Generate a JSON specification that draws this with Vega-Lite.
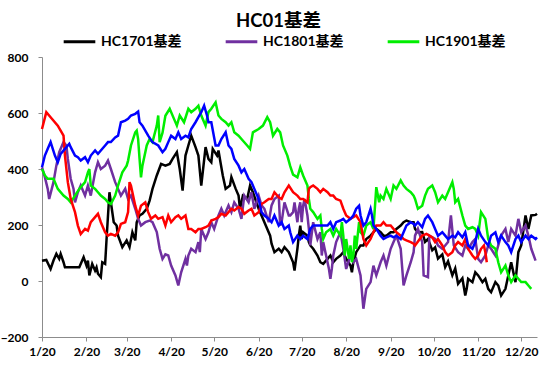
{
"$schema":"https://vega.github.io/schema/vega-lite/v6.json",
"width":495,"height":280,"autosize":"none",
"padding":{"left":42,"top":57,"right":13,"bottom":30},
"background":"white",
"config":{"view":{"stroke":null},"font":"Lato, Noto Sans CJK SC"},
"title":{"text":"HC01基差","fontSize":18.5,"fontWeight":"bold","font":"Lato, Noto Sans CJK SC","color":"#000","anchor":"middle","frame":"group","dx":-11,"offset":22,"dy":28},
"data":{"values":[
{"s":"1701","d":"2017/1/20","v":72},{"s":"1701","d":"2017/1/23","v":75},{"s":"1701","d":"2017/1/26","v":43},{"s":"1701","d":"2017/1/28","v":73},{"s":"1701","d":"2017/1/30","v":97},{"s":"1701","d":"2017/2/1","v":79},{"s":"1701","d":"2017/2/2","v":97},{"s":"1701","d":"2017/2/4","v":67},{"s":"1701","d":"2017/2/5","v":49},{"s":"1701","d":"2017/2/9","v":49},{"s":"1701","d":"2017/2/15","v":49},{"s":"1701","d":"2017/2/18","v":85},{"s":"1701","d":"2017/2/20","v":55},{"s":"1701","d":"2017/2/21","v":73},{"s":"1701","d":"2017/2/22","v":20},{"s":"1701","d":"2017/2/24","v":61},{"s":"1701","d":"2017/2/26","v":37},{"s":"1701","d":"2017/2/27","v":49},{"s":"1701","d":"2017/2/28","v":26},{"s":"1701","d":"2017/3/2","v":14},{"s":"1701","d":"2017/3/3","v":67},{"s":"1701","d":"2017/3/5","v":61},{"s":"1701","d":"2017/3/6","v":150},{"s":"1701","d":"2017/3/8","v":317},{"s":"1701","d":"2017/3/11","v":210},{"s":"1701","d":"2017/3/13","v":198},{"s":"1701","d":"2017/3/14","v":162},{"s":"1701","d":"2017/3/17","v":121},{"s":"1701","d":"2017/3/20","v":145},{"s":"1701","d":"2017/3/22","v":121},{"s":"1701","d":"2017/3/24","v":174},{"s":"1701","d":"2017/3/26","v":145},{"s":"1701","d":"2017/3/27","v":210},{"s":"1701","d":"2017/3/29","v":234},{"s":"1701","d":"2017/3/31","v":240},{"s":"1701","d":"2017/4/3","v":258},{"s":"1701","d":"2017/4/5","v":287},{"s":"1701","d":"2017/4/7","v":329},{"s":"1701","d":"2017/4/10","v":377},{"s":"1701","d":"2017/4/13","v":418},{"s":"1701","d":"2017/4/16","v":412},{"s":"1701","d":"2017/4/19","v":418},{"s":"1701","d":"2017/4/21","v":436},{"s":"1701","d":"2017/4/24","v":460},{"s":"1701","d":"2017/4/26","v":400},{"s":"1701","d":"2017/4/28","v":323},{"s":"1701","d":"2017/4/30","v":448},{"s":"1701","d":"2017/5/2","v":484},{"s":"1701","d":"2017/5/4","v":519},{"s":"1701","d":"2017/5/7","v":478},{"s":"1701","d":"2017/5/9","v":448},{"s":"1701","d":"2017/5/11","v":341},{"s":"1701","d":"2017/5/14","v":478},{"s":"1701","d":"2017/5/16","v":436},{"s":"1701","d":"2017/5/18","v":424},{"s":"1701","d":"2017/5/19","v":472},{"s":"1701","d":"2017/5/22","v":448},{"s":"1701","d":"2017/5/23","v":466},{"s":"1701","d":"2017/5/24","v":436},{"s":"1701","d":"2017/5/26","v":377},{"s":"1701","d":"2017/5/28","v":329},{"s":"1701","d":"2017/5/31","v":341},{"s":"1701","d":"2017/6/1","v":371},{"s":"1701","d":"2017/6/4","v":329},{"s":"1701","d":"2017/6/6","v":305},{"s":"1701","d":"2017/6/7","v":258},{"s":"1701","d":"2017/6/9","v":305},{"s":"1701","d":"2017/6/12","v":293},{"s":"1701","d":"2017/6/14","v":341},{"s":"1701","d":"2017/6/16","v":317},{"s":"1701","d":"2017/6/20","v":258},{"s":"1701","d":"2017/6/24","v":210},{"s":"1701","d":"2017/6/28","v":162},{"s":"1701","d":"2017/6/29","v":133},{"s":"1701","d":"2017/7/1","v":103},{"s":"1701","d":"2017/7/4","v":115},{"s":"1701","d":"2017/7/6","v":103},{"s":"1701","d":"2017/7/8","v":121},{"s":"1701","d":"2017/7/11","v":103},{"s":"1701","d":"2017/7/14","v":67},{"s":"1701","d":"2017/7/15","v":37},{"s":"1701","d":"2017/7/17","v":115},{"s":"1701","d":"2017/7/18","v":162},{"s":"1701","d":"2017/7/19","v":198},{"s":"1701","d":"2017/7/20","v":150},{"s":"1701","d":"2017/7/21","v":174},{"s":"1701","d":"2017/7/24","v":162},{"s":"1701","d":"2017/7/25","v":139},{"s":"1701","d":"2017/7/26","v":127},{"s":"1701","d":"2017/7/28","v":115},{"s":"1701","d":"2017/7/31","v":91},{"s":"1701","d":"2017/8/2","v":67},{"s":"1701","d":"2017/8/4","v":61},{"s":"1701","d":"2017/8/7","v":79},{"s":"1701","d":"2017/8/9","v":91},{"s":"1701","d":"2017/8/11","v":67},{"s":"1701","d":"2017/8/13","v":79},{"s":"1701","d":"2017/8/16","v":91},{"s":"1701","d":"2017/8/18","v":103},{"s":"1701","d":"2017/8/20","v":79},{"s":"1701","d":"2017/8/23","v":55},{"s":"1701","d":"2017/8/24","v":31},{"s":"1701","d":"2017/8/25","v":67},{"s":"1701","d":"2017/8/27","v":103},{"s":"1701","d":"2017/8/30","v":127},{"s":"1701","d":"2017/9/1","v":127},{"s":"1701","d":"2017/9/3","v":150},{"s":"1701","d":"2017/9/6","v":162},{"s":"1701","d":"2017/9/8","v":174},{"s":"1701","d":"2017/9/10","v":186},{"s":"1701","d":"2017/9/13","v":174},{"s":"1701","d":"2017/9/15","v":162},{"s":"1701","d":"2017/9/17","v":162},{"s":"1701","d":"2017/9/20","v":174},{"s":"1701","d":"2017/9/22","v":174},{"s":"1701","d":"2017/9/24","v":186},{"s":"1701","d":"2017/9/27","v":198},{"s":"1701","d":"2017/9/29","v":210},{"s":"1701","d":"2017/10/1","v":216},{"s":"1701","d":"2017/10/4","v":210},{"s":"1701","d":"2017/10/6","v":210},{"s":"1701","d":"2017/10/7","v":186},{"s":"1701","d":"2017/10/9","v":174},{"s":"1701","d":"2017/10/12","v":175},{"s":"1701","d":"2017/10/14","v":140},{"s":"1701","d":"2017/10/16","v":150},{"s":"1701","d":"2017/10/19","v":110},{"s":"1701","d":"2017/10/21","v":120},{"s":"1701","d":"2017/10/23","v":80},{"s":"1701","d":"2017/10/26","v":95},{"s":"1701","d":"2017/10/28","v":50},{"s":"1701","d":"2017/10/30","v":70},{"s":"1701","d":"2017/11/2","v":20},{"s":"1701","d":"2017/11/4","v":45},{"s":"1701","d":"2017/11/6","v":-10},{"s":"1701","d":"2017/11/9","v":10},{"s":"1701","d":"2017/11/11","v":-52},{"s":"1701","d":"2017/11/12","v":-28},{"s":"1701","d":"2017/11/13","v":8},{"s":"1701","d":"2017/11/16","v":-4},{"s":"1701","d":"2017/11/18","v":31},{"s":"1701","d":"2017/11/20","v":20},{"s":"1701","d":"2017/11/23","v":-4},{"s":"1701","d":"2017/11/25","v":8},{"s":"1701","d":"2017/11/27","v":-28},{"s":"1701","d":"2017/11/29","v":-40},{"s":"1701","d":"2017/12/2","v":-4},{"s":"1701","d":"2017/12/4","v":-16},{"s":"1701","d":"2017/12/6","v":-52},{"s":"1701","d":"2017/12/9","v":-28},{"s":"1701","d":"2017/12/11","v":20},{"s":"1701","d":"2017/12/13","v":67},{"s":"1701","d":"2017/12/16","v":-4},{"s":"1701","d":"2017/12/18","v":103},{"s":"1701","d":"2017/12/20","v":127},{"s":"1701","d":"2017/12/23","v":234},{"s":"1701","d":"2017/12/25","v":186},{"s":"1701","d":"2017/12/27","v":234},{"s":"1701","d":"2017/12/30","v":236},{"s":"1701","d":"2017/12/31","v":240},
{"s":"1801","d":"2017/1/20","v":406},{"s":"1801","d":"2017/1/22","v":371},{"s":"1801","d":"2017/1/24","v":329},{"s":"1801","d":"2017/1/25","v":293},{"s":"1801","d":"2017/1/28","v":353},{"s":"1801","d":"2017/1/30","v":412},{"s":"1801","d":"2017/2/1","v":460},{"s":"1801","d":"2017/2/4","v":496},{"s":"1801","d":"2017/2/6","v":484},{"s":"1801","d":"2017/2/7","v":436},{"s":"1801","d":"2017/2/9","v":365},{"s":"1801","d":"2017/2/11","v":329},{"s":"1801","d":"2017/2/12","v":281},{"s":"1801","d":"2017/2/14","v":317},{"s":"1801","d":"2017/2/16","v":341},{"s":"1801","d":"2017/2/19","v":305},{"s":"1801","d":"2017/2/21","v":341},{"s":"1801","d":"2017/2/23","v":305},{"s":"1801","d":"2017/2/26","v":388},{"s":"1801","d":"2017/2/28","v":424},{"s":"1801","d":"2017/3/2","v":400},{"s":"1801","d":"2017/3/5","v":412},{"s":"1801","d":"2017/3/7","v":430},{"s":"1801","d":"2017/3/9","v":400},{"s":"1801","d":"2017/3/12","v":353},{"s":"1801","d":"2017/3/14","v":329},{"s":"1801","d":"2017/3/16","v":305},{"s":"1801","d":"2017/3/19","v":329},{"s":"1801","d":"2017/3/21","v":293},{"s":"1801","d":"2017/3/23","v":305},{"s":"1801","d":"2017/3/26","v":258},{"s":"1801","d":"2017/3/28","v":222},{"s":"1801","d":"2017/3/30","v":198},{"s":"1801","d":"2017/4/2","v":210},{"s":"1801","d":"2017/4/5","v":216},{"s":"1801","d":"2017/4/7","v":210},{"s":"1801","d":"2017/4/10","v":175},{"s":"1801","d":"2017/4/12","v":115},{"s":"1801","d":"2017/4/14","v":79},{"s":"1801","d":"2017/4/16","v":95},{"s":"1801","d":"2017/4/18","v":91},{"s":"1801","d":"2017/4/20","v":55},{"s":"1801","d":"2017/4/23","v":20},{"s":"1801","d":"2017/4/25","v":-16},{"s":"1801","d":"2017/4/26","v":8},{"s":"1801","d":"2017/4/27","v":31},{"s":"1801","d":"2017/4/30","v":79},{"s":"1801","d":"2017/5/1","v":55},{"s":"1801","d":"2017/5/2","v":91},{"s":"1801","d":"2017/5/4","v":115},{"s":"1801","d":"2017/5/7","v":103},{"s":"1801","d":"2017/5/9","v":139},{"s":"1801","d":"2017/5/10","v":103},{"s":"1801","d":"2017/5/11","v":186},{"s":"1801","d":"2017/5/14","v":150},{"s":"1801","d":"2017/5/16","v":174},{"s":"1801","d":"2017/5/18","v":210},{"s":"1801","d":"2017/5/20","v":186},{"s":"1801","d":"2017/5/23","v":234},{"s":"1801","d":"2017/5/25","v":258},{"s":"1801","d":"2017/5/27","v":234},{"s":"1801","d":"2017/5/30","v":270},{"s":"1801","d":"2017/6/1","v":246},{"s":"1801","d":"2017/6/3","v":281},{"s":"1801","d":"2017/6/6","v":258},{"s":"1801","d":"2017/6/8","v":222},{"s":"1801","d":"2017/6/10","v":305},{"s":"1801","d":"2017/6/13","v":281},{"s":"1801","d":"2017/6/15","v":317},{"s":"1801","d":"2017/6/17","v":258},{"s":"1801","d":"2017/6/20","v":305},{"s":"1801","d":"2017/6/22","v":270},{"s":"1801","d":"2017/6/24","v":258},{"s":"1801","d":"2017/6/27","v":210},{"s":"1801","d":"2017/6/29","v":270},{"s":"1801","d":"2017/7/1","v":293},{"s":"1801","d":"2017/7/4","v":305},{"s":"1801","d":"2017/7/5","v":198},{"s":"1801","d":"2017/7/6","v":210},{"s":"1801","d":"2017/7/8","v":281},{"s":"1801","d":"2017/7/11","v":234},{"s":"1801","d":"2017/7/12","v":234},{"s":"1801","d":"2017/7/14","v":246},{"s":"1801","d":"2017/7/15","v":281},{"s":"1801","d":"2017/7/17","v":210},{"s":"1801","d":"2017/7/18","v":258},{"s":"1801","d":"2017/7/19","v":281},{"s":"1801","d":"2017/7/20","v":210},{"s":"1801","d":"2017/7/21","v":269},{"s":"1801","d":"2017/7/22","v":293},{"s":"1801","d":"2017/7/24","v":234},{"s":"1801","d":"2017/7/25","v":186},{"s":"1801","d":"2017/7/26","v":127},{"s":"1801","d":"2017/7/28","v":210},{"s":"1801","d":"2017/7/31","v":150},{"s":"1801","d":"2017/8/2","v":174},{"s":"1801","d":"2017/8/3","v":91},{"s":"1801","d":"2017/8/4","v":139},{"s":"1801","d":"2017/8/7","v":67},{"s":"1801","d":"2017/8/8","v":43},{"s":"1801","d":"2017/8/9","v":8},{"s":"1801","d":"2017/8/10","v":43},{"s":"1801","d":"2017/8/11","v":91},{"s":"1801","d":"2017/8/13","v":139},{"s":"1801","d":"2017/8/16","v":174},{"s":"1801","d":"2017/8/18","v":115},{"s":"1801","d":"2017/8/20","v":43},{"s":"1801","d":"2017/8/23","v":91},{"s":"1801","d":"2017/8/25","v":67},{"s":"1801","d":"2017/8/27","v":79},{"s":"1801","d":"2017/8/30","v":20},{"s":"1801","d":"2017/9/1","v":-99},{"s":"1801","d":"2017/9/3","v":-28},{"s":"1801","d":"2017/9/6","v":-4},{"s":"1801","d":"2017/9/8","v":55},{"s":"1801","d":"2017/9/10","v":20},{"s":"1801","d":"2017/9/13","v":67},{"s":"1801","d":"2017/9/15","v":91},{"s":"1801","d":"2017/9/17","v":55},{"s":"1801","d":"2017/9/20","v":115},{"s":"1801","d":"2017/9/22","v":139},{"s":"1801","d":"2017/9/24","v":162},{"s":"1801","d":"2017/9/27","v":115},{"s":"1801","d":"2017/9/29","v":-16},{"s":"1801","d":"2017/10/1","v":20},{"s":"1801","d":"2017/10/4","v":67},{"s":"1801","d":"2017/10/6","v":103},{"s":"1801","d":"2017/10/7","v":162},{"s":"1801","d":"2017/10/9","v":186},{"s":"1801","d":"2017/10/12","v":139},{"s":"1801","d":"2017/10/13","v":20},{"s":"1801","d":"2017/10/16","v":14},{"s":"1801","d":"2017/10/17","v":162},{"s":"1801","d":"2017/10/21","v":150},{"s":"1801","d":"2017/10/23","v":127},{"s":"1801","d":"2017/10/26","v":115},{"s":"1801","d":"2017/10/28","v":127},{"s":"1801","d":"2017/10/30","v":139},{"s":"1801","d":"2017/11/1","v":234},{"s":"1801","d":"2017/11/3","v":127},{"s":"1801","d":"2017/11/6","v":103},{"s":"1801","d":"2017/11/9","v":91},{"s":"1801","d":"2017/11/11","v":127},{"s":"1801","d":"2017/11/13","v":115},{"s":"1801","d":"2017/11/16","v":139},{"s":"1801","d":"2017/11/18","v":150},{"s":"1801","d":"2017/11/20","v":79},{"s":"1801","d":"2017/11/22","v":67},{"s":"1801","d":"2017/11/25","v":91},{"s":"1801","d":"2017/11/27","v":127},{"s":"1801","d":"2017/11/29","v":115},{"s":"1801","d":"2017/12/2","v":91},{"s":"1801","d":"2017/12/4","v":127},{"s":"1801","d":"2017/12/6","v":162},{"s":"1801","d":"2017/12/9","v":186},{"s":"1801","d":"2017/12/11","v":139},{"s":"1801","d":"2017/12/13","v":186},{"s":"1801","d":"2017/12/16","v":162},{"s":"1801","d":"2017/12/18","v":222},{"s":"1801","d":"2017/12/20","v":174},{"s":"1801","d":"2017/12/23","v":198},{"s":"1801","d":"2017/12/25","v":162},{"s":"1801","d":"2017/12/27","v":115},{"s":"1801","d":"2017/12/30","v":73},
{"s":"1901","d":"2017/1/20","v":400},{"s":"1901","d":"2017/1/22","v":377},{"s":"1901","d":"2017/1/24","v":365},{"s":"1901","d":"2017/1/28","v":365},{"s":"1901","d":"2017/1/31","v":329},{"s":"1901","d":"2017/2/4","v":305},{"s":"1901","d":"2017/2/7","v":293},{"s":"1901","d":"2017/2/9","v":281},{"s":"1901","d":"2017/2/12","v":305},{"s":"1901","d":"2017/2/15","v":329},{"s":"1901","d":"2017/2/19","v":353},{"s":"1901","d":"2017/2/21","v":388},{"s":"1901","d":"2017/2/22","v":400},{"s":"1901","d":"2017/2/23","v":341},{"s":"1901","d":"2017/2/26","v":329},{"s":"1901","d":"2017/2/28","v":317},{"s":"1901","d":"2017/3/2","v":305},{"s":"1901","d":"2017/3/5","v":293},{"s":"1901","d":"2017/3/7","v":281},{"s":"1901","d":"2017/3/9","v":275},{"s":"1901","d":"2017/3/12","v":305},{"s":"1901","d":"2017/3/14","v":341},{"s":"1901","d":"2017/3/17","v":388},{"s":"1901","d":"2017/3/20","v":412},{"s":"1901","d":"2017/3/21","v":430},{"s":"1901","d":"2017/3/23","v":484},{"s":"1901","d":"2017/3/26","v":531},{"s":"1901","d":"2017/3/27","v":537},{"s":"1901","d":"2017/3/28","v":507},{"s":"1901","d":"2017/3/29","v":436},{"s":"1901","d":"2017/3/30","v":370},{"s":"1901","d":"2017/3/31","v":412},{"s":"1901","d":"2017/4/3","v":484},{"s":"1901","d":"2017/4/5","v":507},{"s":"1901","d":"2017/4/7","v":496},{"s":"1901","d":"2017/4/10","v":555},{"s":"1901","d":"2017/4/11","v":591},{"s":"1901","d":"2017/4/12","v":496},{"s":"1901","d":"2017/4/14","v":530},{"s":"1901","d":"2017/4/16","v":590},{"s":"1901","d":"2017/4/19","v":615},{"s":"1901","d":"2017/4/22","v":579},{"s":"1901","d":"2017/4/24","v":555},{"s":"1901","d":"2017/4/26","v":591},{"s":"1901","d":"2017/4/29","v":567},{"s":"1901","d":"2017/5/2","v":615},{"s":"1901","d":"2017/5/4","v":603},{"s":"1901","d":"2017/5/7","v":615},{"s":"1901","d":"2017/5/9","v":626},{"s":"1901","d":"2017/5/11","v":591},{"s":"1901","d":"2017/5/14","v":555},{"s":"1901","d":"2017/5/16","v":603},{"s":"1901","d":"2017/5/18","v":615},{"s":"1901","d":"2017/5/21","v":638},{"s":"1901","d":"2017/5/23","v":591},{"s":"1901","d":"2017/5/25","v":579},{"s":"1901","d":"2017/5/28","v":567},{"s":"1901","d":"2017/5/30","v":555},{"s":"1901","d":"2017/6/1","v":567},{"s":"1901","d":"2017/6/3","v":531},{"s":"1901","d":"2017/6/6","v":519},{"s":"1901","d":"2017/6/8","v":507},{"s":"1901","d":"2017/6/12","v":484},{"s":"1901","d":"2017/6/14","v":472},{"s":"1901","d":"2017/6/16","v":531},{"s":"1901","d":"2017/6/20","v":543},{"s":"1901","d":"2017/6/23","v":555},{"s":"1901","d":"2017/6/26","v":585},{"s":"1901","d":"2017/6/28","v":567},{"s":"1901","d":"2017/6/30","v":519},{"s":"1901","d":"2017/7/3","v":543},{"s":"1901","d":"2017/7/5","v":531},{"s":"1901","d":"2017/7/7","v":484},{"s":"1901","d":"2017/7/10","v":448},{"s":"1901","d":"2017/7/12","v":410},{"s":"1901","d":"2017/7/14","v":380},{"s":"1901","d":"2017/7/17","v":370},{"s":"1901","d":"2017/7/19","v":406},{"s":"1901","d":"2017/7/21","v":377},{"s":"1901","d":"2017/7/24","v":341},{"s":"1901","d":"2017/7/25","v":293},{"s":"1901","d":"2017/7/26","v":258},{"s":"1901","d":"2017/7/28","v":246},{"s":"1901","d":"2017/7/31","v":222},{"s":"1901","d":"2017/8/2","v":234},{"s":"1901","d":"2017/8/3","v":186},{"s":"1901","d":"2017/8/4","v":150},{"s":"1901","d":"2017/8/6","v":174},{"s":"1901","d":"2017/8/9","v":186},{"s":"1901","d":"2017/8/11","v":162},{"s":"1901","d":"2017/8/13","v":186},{"s":"1901","d":"2017/8/16","v":162},{"s":"1901","d":"2017/8/17","v":210},{"s":"1901","d":"2017/8/18","v":162},{"s":"1901","d":"2017/8/19","v":91},{"s":"1901","d":"2017/8/20","v":150},{"s":"1901","d":"2017/8/22","v":79},{"s":"1901","d":"2017/8/23","v":127},{"s":"1901","d":"2017/8/24","v":67},{"s":"1901","d":"2017/8/25","v":91},{"s":"1901","d":"2017/8/26","v":162},{"s":"1901","d":"2017/8/27","v":115},{"s":"1901","d":"2017/8/29","v":210},{"s":"1901","d":"2017/8/30","v":174},{"s":"1901","d":"2017/9/1","v":162},{"s":"1901","d":"2017/9/3","v":198},{"s":"1901","d":"2017/9/6","v":210},{"s":"1901","d":"2017/9/8","v":186},{"s":"1901","d":"2017/9/10","v":335},{"s":"1901","d":"2017/9/12","v":281},{"s":"1901","d":"2017/9/13","v":305},{"s":"1901","d":"2017/9/15","v":293},{"s":"1901","d":"2017/9/17","v":329},{"s":"1901","d":"2017/9/20","v":293},{"s":"1901","d":"2017/9/22","v":341},{"s":"1901","d":"2017/9/24","v":329},{"s":"1901","d":"2017/9/27","v":359},{"s":"1901","d":"2017/9/29","v":341},{"s":"1901","d":"2017/10/1","v":329},{"s":"1901","d":"2017/10/4","v":317},{"s":"1901","d":"2017/10/6","v":305},{"s":"1901","d":"2017/10/7","v":293},{"s":"1901","d":"2017/10/9","v":258},{"s":"1901","d":"2017/10/12","v":269},{"s":"1901","d":"2017/10/14","v":305},{"s":"1901","d":"2017/10/16","v":329},{"s":"1901","d":"2017/10/19","v":341},{"s":"1901","d":"2017/10/21","v":317},{"s":"1901","d":"2017/10/23","v":281},{"s":"1901","d":"2017/10/26","v":305},{"s":"1901","d":"2017/10/28","v":293},{"s":"1901","d":"2017/10/30","v":317},{"s":"1901","d":"2017/11/2","v":353},{"s":"1901","d":"2017/11/3","v":329},{"s":"1901","d":"2017/11/4","v":281},{"s":"1901","d":"2017/11/6","v":293},{"s":"1901","d":"2017/11/9","v":234},{"s":"1901","d":"2017/11/11","v":198},{"s":"1901","d":"2017/11/13","v":186},{"s":"1901","d":"2017/11/16","v":192},{"s":"1901","d":"2017/11/18","v":186},{"s":"1901","d":"2017/11/20","v":162},{"s":"1901","d":"2017/11/22","v":246},{"s":"1901","d":"2017/11/25","v":222},{"s":"1901","d":"2017/11/27","v":150},{"s":"1901","d":"2017/11/29","v":127},{"s":"1901","d":"2017/12/2","v":115},{"s":"1901","d":"2017/12/4","v":67},{"s":"1901","d":"2017/12/6","v":31},{"s":"1901","d":"2017/12/9","v":55},{"s":"1901","d":"2017/12/11","v":20},{"s":"1901","d":"2017/12/13","v":-4},{"s":"1901","d":"2017/12/16","v":20},{"s":"1901","d":"2017/12/18","v":8},{"s":"1901","d":"2017/12/20","v":-4},{"s":"1901","d":"2017/12/23","v":-4},{"s":"1901","d":"2017/12/25","v":-16},{"s":"1901","d":"2017/12/27","v":-28},
{"s":"1601","d":"2017/1/20","v":543},{"s":"1601","d":"2017/1/23","v":603},{"s":"1601","d":"2017/1/26","v":585},{"s":"1601","d":"2017/1/31","v":555},{"s":"1601","d":"2017/2/2","v":537},{"s":"1601","d":"2017/2/4","v":519},{"s":"1601","d":"2017/2/5","v":448},{"s":"1601","d":"2017/2/7","v":353},{"s":"1601","d":"2017/2/9","v":293},{"s":"1601","d":"2017/2/12","v":246},{"s":"1601","d":"2017/2/14","v":198},{"s":"1601","d":"2017/2/16","v":168},{"s":"1601","d":"2017/2/19","v":186},{"s":"1601","d":"2017/2/21","v":180},{"s":"1601","d":"2017/2/23","v":210},{"s":"1601","d":"2017/2/26","v":228},{"s":"1601","d":"2017/2/28","v":240},{"s":"1601","d":"2017/3/2","v":210},{"s":"1601","d":"2017/3/5","v":174},{"s":"1601","d":"2017/3/7","v":162},{"s":"1601","d":"2017/3/9","v":168},{"s":"1601","d":"2017/3/12","v":162},{"s":"1601","d":"2017/3/14","v":174},{"s":"1601","d":"2017/3/16","v":204},{"s":"1601","d":"2017/3/19","v":210},{"s":"1601","d":"2017/3/21","v":246},{"s":"1601","d":"2017/3/22","v":353},{"s":"1601","d":"2017/3/23","v":341},{"s":"1601","d":"2017/3/26","v":269},{"s":"1601","d":"2017/3/28","v":234},{"s":"1601","d":"2017/3/30","v":269},{"s":"1601","d":"2017/4/2","v":281},{"s":"1601","d":"2017/4/4","v":246},{"s":"1601","d":"2017/4/6","v":222},{"s":"1601","d":"2017/4/9","v":234},{"s":"1601","d":"2017/4/11","v":222},{"s":"1601","d":"2017/4/14","v":228},{"s":"1601","d":"2017/4/16","v":198},{"s":"1601","d":"2017/4/18","v":234},{"s":"1601","d":"2017/4/20","v":210},{"s":"1601","d":"2017/4/23","v":228},{"s":"1601","d":"2017/4/25","v":234},{"s":"1601","d":"2017/4/27","v":222},{"s":"1601","d":"2017/4/30","v":234},{"s":"1601","d":"2017/5/2","v":186},{"s":"1601","d":"2017/5/4","v":186},{"s":"1601","d":"2017/5/7","v":174},{"s":"1601","d":"2017/5/9","v":186},{"s":"1601","d":"2017/5/11","v":186},{"s":"1601","d":"2017/5/14","v":192},{"s":"1601","d":"2017/5/16","v":198},{"s":"1601","d":"2017/5/18","v":216},{"s":"1601","d":"2017/5/21","v":222},{"s":"1601","d":"2017/5/23","v":228},{"s":"1601","d":"2017/5/25","v":240},{"s":"1601","d":"2017/5/28","v":234},{"s":"1601","d":"2017/5/30","v":246},{"s":"1601","d":"2017/6/1","v":258},{"s":"1601","d":"2017/6/3","v":252},{"s":"1601","d":"2017/6/6","v":264},{"s":"1601","d":"2017/6/8","v":258},{"s":"1601","d":"2017/6/10","v":240},{"s":"1601","d":"2017/6/13","v":252},{"s":"1601","d":"2017/6/15","v":258},{"s":"1601","d":"2017/6/17","v":234},{"s":"1601","d":"2017/6/20","v":246},{"s":"1601","d":"2017/6/22","v":275},{"s":"1601","d":"2017/6/24","v":281},{"s":"1601","d":"2017/6/27","v":293},{"s":"1601","d":"2017/6/29","v":293},{"s":"1601","d":"2017/7/1","v":317},{"s":"1601","d":"2017/7/4","v":299},{"s":"1601","d":"2017/7/6","v":293},{"s":"1601","d":"2017/7/8","v":317},{"s":"1601","d":"2017/7/11","v":341},{"s":"1601","d":"2017/7/14","v":317},{"s":"1601","d":"2017/7/17","v":305},{"s":"1601","d":"2017/7/19","v":293},{"s":"1601","d":"2017/7/21","v":293},{"s":"1601","d":"2017/7/24","v":281},{"s":"1601","d":"2017/7/25","v":329},{"s":"1601","d":"2017/7/26","v":335},{"s":"1601","d":"2017/7/28","v":341},{"s":"1601","d":"2017/7/31","v":329},{"s":"1601","d":"2017/8/2","v":317},{"s":"1601","d":"2017/8/4","v":329},{"s":"1601","d":"2017/8/7","v":317},{"s":"1601","d":"2017/8/9","v":305},{"s":"1601","d":"2017/8/11","v":305},{"s":"1601","d":"2017/8/13","v":293},{"s":"1601","d":"2017/8/16","v":287},{"s":"1601","d":"2017/8/18","v":258},{"s":"1601","d":"2017/8/20","v":234},{"s":"1601","d":"2017/8/23","v":222},{"s":"1601","d":"2017/8/25","v":228},{"s":"1601","d":"2017/8/27","v":234},{"s":"1601","d":"2017/8/30","v":210},{"s":"1601","d":"2017/9/1","v":150},{"s":"1601","d":"2017/9/3","v":127},{"s":"1601","d":"2017/9/6","v":150},{"s":"1601","d":"2017/9/8","v":174},{"s":"1601","d":"2017/9/10","v":198},{"s":"1601","d":"2017/9/13","v":198},{"s":"1601","d":"2017/9/15","v":210},{"s":"1601","d":"2017/9/17","v":198},{"s":"1601","d":"2017/9/20","v":198},{"s":"1601","d":"2017/9/22","v":186},{"s":"1601","d":"2017/9/24","v":174},{"s":"1601","d":"2017/9/27","v":162},{"s":"1601","d":"2017/9/29","v":150},{"s":"1601","d":"2017/10/1","v":145},{"s":"1601","d":"2017/10/4","v":139},{"s":"1601","d":"2017/10/6","v":133},{"s":"1601","d":"2017/10/7","v":127},{"s":"1601","d":"2017/10/12","v":162},{"s":"1601","d":"2017/10/15","v":168},{"s":"1601","d":"2017/10/19","v":156},{"s":"1601","d":"2017/10/21","v":139},{"s":"1601","d":"2017/10/23","v":150},{"s":"1601","d":"2017/10/26","v":127},{"s":"1601","d":"2017/10/28","v":103},{"s":"1601","d":"2017/10/30","v":91},{"s":"1601","d":"2017/11/2","v":103},{"s":"1601","d":"2017/11/4","v":127},{"s":"1601","d":"2017/11/6","v":139},{"s":"1601","d":"2017/11/9","v":127},{"s":"1601","d":"2017/11/11","v":150},{"s":"1601","d":"2017/11/13","v":115},{"s":"1601","d":"2017/11/16","v":91},{"s":"1601","d":"2017/11/18","v":79},{"s":"1601","d":"2017/11/20","v":91},{"s":"1601","d":"2017/11/22","v":115},{"s":"1601","d":"2017/11/24","v":127},{"s":"1601","d":"2017/11/25","v":103},{"s":"1601","d":"2017/11/26","v":67},
{"s":"1501","d":"2017/1/20","v":406},{"s":"1501","d":"2017/1/22","v":448},{"s":"1501","d":"2017/1/24","v":472},{"s":"1501","d":"2017/1/26","v":496},{"s":"1501","d":"2017/1/29","v":448},{"s":"1501","d":"2017/1/31","v":424},{"s":"1501","d":"2017/2/2","v":454},{"s":"1501","d":"2017/2/5","v":472},{"s":"1501","d":"2017/2/8","v":490},{"s":"1501","d":"2017/2/9","v":478},{"s":"1501","d":"2017/2/12","v":448},{"s":"1501","d":"2017/2/14","v":442},{"s":"1501","d":"2017/2/16","v":430},{"s":"1501","d":"2017/2/19","v":442},{"s":"1501","d":"2017/2/21","v":424},{"s":"1501","d":"2017/2/23","v":448},{"s":"1501","d":"2017/2/26","v":466},{"s":"1501","d":"2017/2/28","v":454},{"s":"1501","d":"2017/3/2","v":466},{"s":"1501","d":"2017/3/5","v":484},{"s":"1501","d":"2017/3/7","v":496},{"s":"1501","d":"2017/3/9","v":496},{"s":"1501","d":"2017/3/12","v":513},{"s":"1501","d":"2017/3/14","v":519},{"s":"1501","d":"2017/3/16","v":567},{"s":"1501","d":"2017/3/19","v":573},{"s":"1501","d":"2017/3/21","v":579},{"s":"1501","d":"2017/3/23","v":591},{"s":"1501","d":"2017/3/26","v":597},{"s":"1501","d":"2017/3/28","v":605},{"s":"1501","d":"2017/3/29","v":567},{"s":"1501","d":"2017/3/31","v":555},{"s":"1501","d":"2017/4/4","v":519},{"s":"1501","d":"2017/4/7","v":496},{"s":"1501","d":"2017/4/11","v":484},{"s":"1501","d":"2017/4/14","v":460},{"s":"1501","d":"2017/4/16","v":472},{"s":"1501","d":"2017/4/18","v":496},{"s":"1501","d":"2017/4/20","v":519},{"s":"1501","d":"2017/4/23","v":507},{"s":"1501","d":"2017/4/25","v":531},{"s":"1501","d":"2017/4/27","v":507},{"s":"1501","d":"2017/4/30","v":519},{"s":"1501","d":"2017/5/2","v":513},{"s":"1501","d":"2017/5/4","v":543},{"s":"1501","d":"2017/5/7","v":567},{"s":"1501","d":"2017/5/9","v":585},{"s":"1501","d":"2017/5/11","v":603},{"s":"1501","d":"2017/5/13","v":626},{"s":"1501","d":"2017/5/15","v":591},{"s":"1501","d":"2017/5/16","v":567},{"s":"1501","d":"2017/5/18","v":567},{"s":"1501","d":"2017/5/21","v":484},{"s":"1501","d":"2017/5/23","v":484},{"s":"1501","d":"2017/5/25","v":507},{"s":"1501","d":"2017/5/28","v":531},{"s":"1501","d":"2017/5/30","v":484},{"s":"1501","d":"2017/6/1","v":472},{"s":"1501","d":"2017/6/3","v":436},{"s":"1501","d":"2017/6/6","v":412},{"s":"1501","d":"2017/6/8","v":388},{"s":"1501","d":"2017/6/10","v":400},{"s":"1501","d":"2017/6/13","v":365},{"s":"1501","d":"2017/6/15","v":353},{"s":"1501","d":"2017/6/17","v":329},{"s":"1501","d":"2017/6/20","v":293},{"s":"1501","d":"2017/6/22","v":246},{"s":"1501","d":"2017/6/24","v":234},{"s":"1501","d":"2017/6/27","v":222},{"s":"1501","d":"2017/6/29","v":210},{"s":"1501","d":"2017/7/1","v":234},{"s":"1501","d":"2017/7/4","v":198},{"s":"1501","d":"2017/7/6","v":210},{"s":"1501","d":"2017/7/8","v":186},{"s":"1501","d":"2017/7/11","v":198},{"s":"1501","d":"2017/7/12","v":174},{"s":"1501","d":"2017/7/14","v":139},{"s":"1501","d":"2017/7/17","v":162},{"s":"1501","d":"2017/7/19","v":150},{"s":"1501","d":"2017/7/21","v":162},{"s":"1501","d":"2017/7/24","v":150},{"s":"1501","d":"2017/7/26","v":186},{"s":"1501","d":"2017/7/28","v":198},{"s":"1501","d":"2017/7/31","v":198},{"s":"1501","d":"2017/8/2","v":198},{"s":"1501","d":"2017/8/4","v":198},{"s":"1501","d":"2017/8/7","v":198},{"s":"1501","d":"2017/8/9","v":210},{"s":"1501","d":"2017/8/11","v":186},{"s":"1501","d":"2017/8/13","v":210},{"s":"1501","d":"2017/8/16","v":216},{"s":"1501","d":"2017/8/18","v":222},{"s":"1501","d":"2017/8/20","v":210},{"s":"1501","d":"2017/8/23","v":222},{"s":"1501","d":"2017/8/25","v":234},{"s":"1501","d":"2017/8/27","v":258},{"s":"1501","d":"2017/8/29","v":269},{"s":"1501","d":"2017/8/30","v":234},{"s":"1501","d":"2017/9/1","v":198},{"s":"1501","d":"2017/9/3","v":210},{"s":"1501","d":"2017/9/6","v":258},{"s":"1501","d":"2017/9/7","v":234},{"s":"1501","d":"2017/9/8","v":198},{"s":"1501","d":"2017/9/10","v":186},{"s":"1501","d":"2017/9/13","v":162},{"s":"1501","d":"2017/9/15","v":150},{"s":"1501","d":"2017/9/17","v":156},{"s":"1501","d":"2017/9/20","v":162},{"s":"1501","d":"2017/9/22","v":156},{"s":"1501","d":"2017/9/24","v":162},{"s":"1501","d":"2017/9/27","v":150},{"s":"1501","d":"2017/9/29","v":174},{"s":"1501","d":"2017/10/1","v":198},{"s":"1501","d":"2017/10/4","v":210},{"s":"1501","d":"2017/10/6","v":204},{"s":"1501","d":"2017/10/7","v":198},{"s":"1501","d":"2017/10/9","v":210},{"s":"1501","d":"2017/10/12","v":192},{"s":"1501","d":"2017/10/14","v":222},{"s":"1501","d":"2017/10/16","v":234},{"s":"1501","d":"2017/10/19","v":210},{"s":"1501","d":"2017/10/21","v":186},{"s":"1501","d":"2017/10/23","v":162},{"s":"1501","d":"2017/10/26","v":174},{"s":"1501","d":"2017/10/28","v":162},{"s":"1501","d":"2017/10/30","v":150},{"s":"1501","d":"2017/11/2","v":162},{"s":"1501","d":"2017/11/4","v":156},{"s":"1501","d":"2017/11/6","v":174},{"s":"1501","d":"2017/11/9","v":156},{"s":"1501","d":"2017/11/11","v":174},{"s":"1501","d":"2017/11/13","v":127},{"s":"1501","d":"2017/11/16","v":115},{"s":"1501","d":"2017/11/18","v":139},{"s":"1501","d":"2017/11/20","v":186},{"s":"1501","d":"2017/11/22","v":162},{"s":"1501","d":"2017/11/25","v":139},{"s":"1501","d":"2017/11/27","v":127},{"s":"1501","d":"2017/11/29","v":162},{"s":"1501","d":"2017/12/2","v":174},{"s":"1501","d":"2017/12/4","v":139},{"s":"1501","d":"2017/12/6","v":162},{"s":"1501","d":"2017/12/9","v":139},{"s":"1501","d":"2017/12/11","v":127},{"s":"1501","d":"2017/12/13","v":103},{"s":"1501","d":"2017/12/16","v":150},{"s":"1501","d":"2017/12/18","v":162},{"s":"1501","d":"2017/12/20","v":139},{"s":"1501","d":"2017/12/23","v":162},{"s":"1501","d":"2017/12/25","v":150},{"s":"1501","d":"2017/12/27","v":162},{"s":"1501","d":"2017/12/30","v":150},{"s":"1501","d":"2017/12/31","v":156}
]},
"mark":{"type":"line","strokeWidth":2.5,"interpolate":"linear"},
"encoding":{
"x":{"field":"d","type":"temporal",
"scale":{"domain":[{"year":2017,"month":1,"date":20},{"year":2017,"month":12,"date":31}]},
"axis":{"title":null,"grid":false,"format":"%-m/%d","values":[{"year":2017,"month":1,"date":20},{"year":2017,"month":2,"date":20},{"year":2017,"month":3,"date":20},{"year":2017,"month":4,"date":20},{"year":2017,"month":5,"date":20},{"year":2017,"month":6,"date":20},{"year":2017,"month":7,"date":20},{"year":2017,"month":8,"date":20},{"year":2017,"month":9,"date":20},{"year":2017,"month":10,"date":20},{"year":2017,"month":11,"date":20},{"year":2017,"month":12,"date":20}],
"domainColor":"#8c8c8c","tickColor":"#8c8c8c","tickSize":4,"labelPadding":5,"labelFontSize":12,"labelFontWeight":"bold","labelColor":"#000","labelFont":"Lato","labelFlush":false,"labelOverlap":false}},
"y":{"field":"v","type":"quantitative",
"scale":{"domain":[-200,800],"nice":false,"zero":false},
"axis":{"title":null,"grid":false,"values":[-200,0,200,400,600,800],"domainColor":"#8c8c8c","tickColor":"#8c8c8c","tickSize":4,"labelPadding":10,"labelFontSize":12,"labelFontWeight":"bold","labelColor":"#000","labelFont":"Lato"}},
"color":{"field":"s","type":"nominal",
"scale":{"domain":["1701","1801","1901","1601","1501"],"range":["#000000","#7030A0","#00EE00","#FF0000","#0000FF"]},
"legend":{"orient":"none","legendX":20,"legendY":-33,"direction":"horizontal","title":null,"values":["1701","1801","1901"],"labelExpr":"'HC' + datum.label + '基差'","symbolType":"stroke","symbolSize":1000,"symbolStrokeWidth":3,"labelFont":"Lato, Noto Sans CJK SC","labelFontSize":14,"labelFontWeight":"bold","labelColor":"#000","columnPadding":37,"labelOffset":4,"padding":0}}
}
}
